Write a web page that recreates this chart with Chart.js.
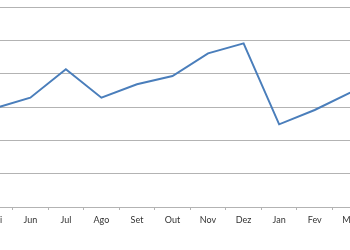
<!DOCTYPE html>
<html>
<head>
<meta charset="utf-8">
<script src="https://cdn.jsdelivr.net/npm/chart.js@4/dist/chart.umd.min.js"></script>
<style>
  html, body { margin: 0; padding: 0; background: #fff; overflow: hidden; }
  #wrap { position: absolute; left: -22.8px; top: 0; width: 391px; height: 250px; }
</style>
</head>
<body>
<div id="wrap"><canvas id="myChart"></canvas></div>
<script>
const months = ['Mai', 'Jun', 'Jul', 'Ago', 'Set', 'Out', 'Nov', 'Dez', 'Jan', 'Fev', 'Mar'];
const values = [59.3, 65.6, 82.6, 65.6, 73.6, 78.6, 92.2, 98.2, 49.6, 58.2, 68.6];
const yTicks = [0, 20, 40, 60, 80, 100, 120];

function createChart() {
  const ctx = document.getElementById('myChart').getContext('2d');
  new Chart(ctx, {
    type: 'line',
    data: {
      labels: months,
      datasets: [
        {
          label: 'Série',
          data: values,
          borderColor: '#4a7ebb',
          borderWidth: 2,
          pointRadius: 0,
          tension: 0,
          fill: false,
        },
      ],
    },
    options: {
      responsive: true,
      maintainAspectRatio: false,
      animation: false,
      layout: { padding: { top: 7, left: 0, right: 0, bottom: 0 } },
      plugins: { legend: { display: false }, tooltip: { enabled: false } },
      scales: {
        x: {
          offset: true,
          grid: {
            offset: true,
            drawOnChartArea: false,
            drawTicks: true,
            tickLength: 3,
            color: '#b3b3b3',
          },
          border: { display: true, color: '#b3b3b3', width: 1 },
          ticks: {
            color: '#333',
            padding: 5,
            maxRotation: 0,
            autoSkip: false,
            font: { family: 'Lato', size: 9 },
          },
          afterFit: (scale) => { scale.height = 43; },
        },
        y: {
          min: yTicks[0],
          max: yTicks[yTicks.length - 1],
          afterBuildTicks: (scale) => { scale.ticks = yTicks.map((v) => ({ value: v })); },
          ticks: { display: false },
          grid: { color: '#b3b3b3', drawTicks: false },
          border: { display: false },
          afterFit: (scale) => { scale.width = 0; },
        },
      },
    },
  });
}

createChart();
</script>
</body>
</html>
